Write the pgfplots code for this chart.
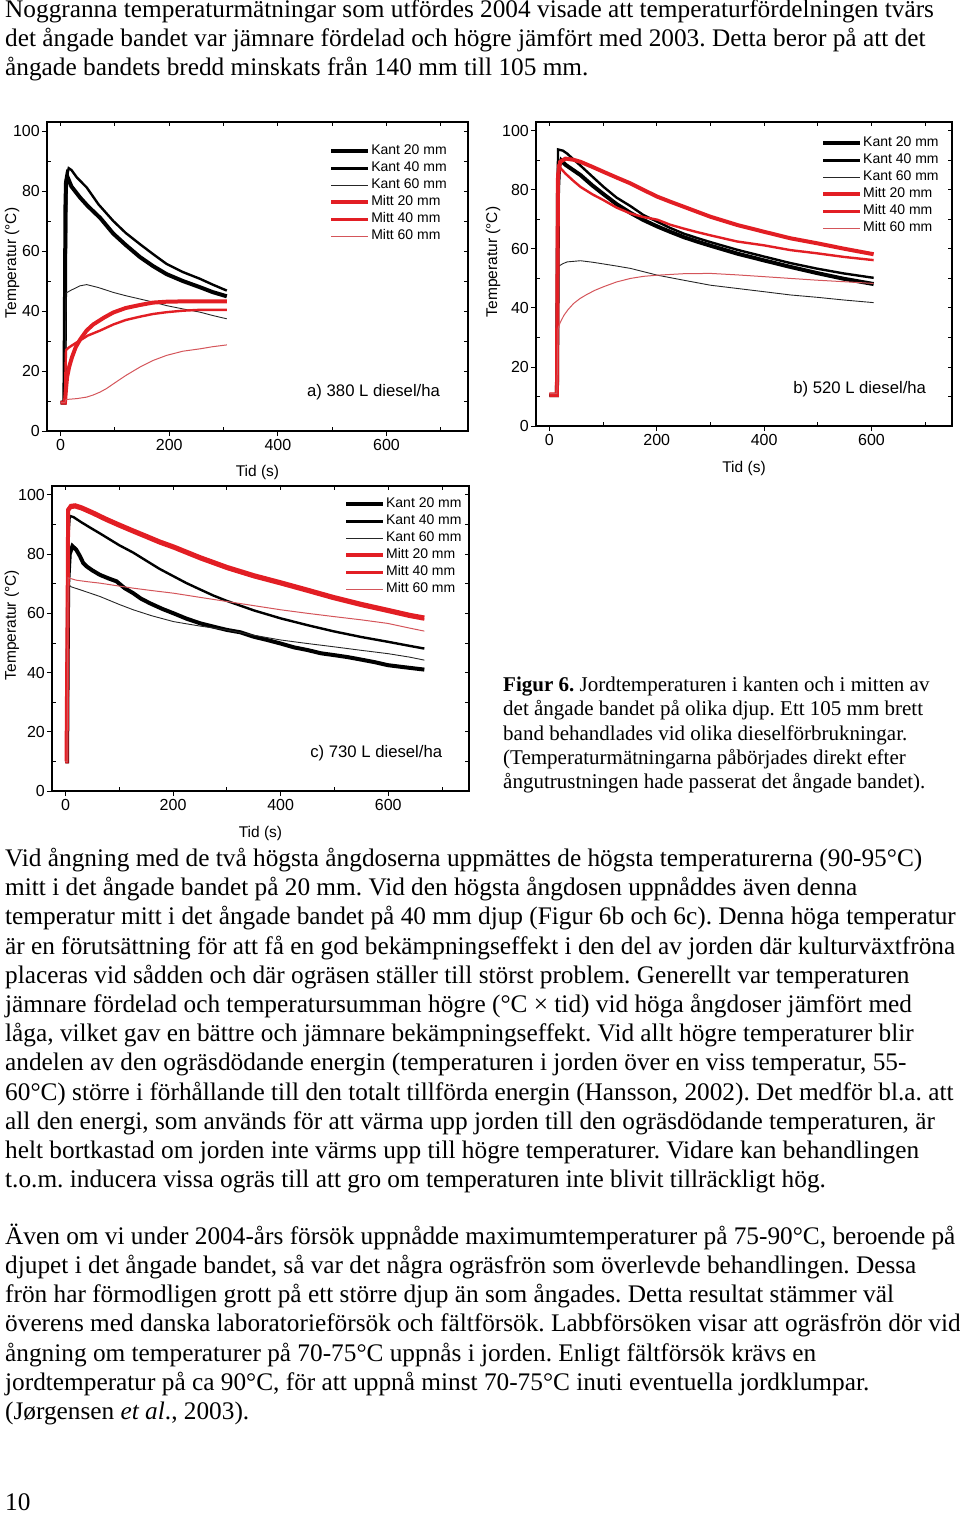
\documentclass[border=0pt]{standalone}
\usepackage{fontspec}
\setmainfont{Liberation Serif}
\newfontfamily\arial{Liberation Sans}
\usepackage{pgfplots}
\pgfplotsset{compat=1.18}
\frenchspacing
\definecolor{rd}{RGB}{226,30,36}
\definecolor{rdl}{RGB}{212,85,90}
\newcommand{\bodyf}{\fontsize{25.3}{29}\selectfont\frenchspacing}
\newcommand{\capf}{\fontsize{21}{24}\selectfont\frenchspacing}
\pgfplotsset{
  panel/.style={scale only axis, xmin=-25, xmax=750, ymin=0, ymax=103, anchor=north west,
    axis line style={line width=1.2pt}, tick style={black, line width=0.9pt},
    /pgf/number format/assume math mode=true,
    tick label style={font=\arial\fontsize{16}{16}\selectfont},
    label style={font=\arial\fontsize{15.5}{16}\selectfont}},
  mainax/.style={xtick={0,200,400,600}, ytick={0,20,...,100}, xtick pos=left, ytick pos=left,
    tick align=outside, major tick length=5pt,
    xticklabel style={inner sep=0pt, yshift=-3pt}, yticklabel style={inner sep=0pt, xshift=-2pt},
    xlabel={Tid (s)}, ylabel={Temperatur (°C)},
    legend cell align=left,
    legend image code/.code={\draw[##1] (0pt,0pt) -- (37pt,0pt);},
    legend style={draw=none, fill=none, inner sep=0pt, row sep=0pt, column sep=0pt,
      font=\arial\fontsize{14}{14}\selectfont, nodes={inner sep=1pt, text height=11pt, text depth=4pt}}},
  ovA/.style={axis line style={draw=none}, xticklabels={}, yticklabels={},
    xtick={100,300,500,700}, ytick={10,30,50,70,90}, xtick pos=both, ytick pos=both,
    tick align=inside, major tick length=4pt},
  ovB/.style={axis line style={draw=none}, xticklabels={}, yticklabels={},
    xtick={0,200,400,600}, ytick={0,20,...,100}, xtick pos=right, ytick pos=right,
    tick align=inside, major tick length=4pt},
  k20/.style={black, line width=4pt},
  k40/.style={black, line width=2.4pt},
  k60/.style={black!85, line width=0.9pt},
  m20/.style={rd, line width=4pt},
  m40/.style={rd, line width=2.4pt},
  m60/.style={rdl, line width=1pt},
}
\newcommand{\panelf}{\arial\fontsize{16.7}{17}\selectfont}
\begin{document}
\begin{tikzpicture}
\path[use as bounding box] (0pt,0pt) rectangle (960pt,-1515pt);

% ---------- top text ----------
\begin{scope}[every node/.style={anchor=base west, inner sep=0pt, font=\bodyf}]
\node at (5pt,-17.5pt) {Noggranna temperaturmätningar som utfördes 2004 visade att temperaturfördelningen tvärs};
\node at (5pt,-46.5pt) {det ångade bandet var jämnare fördelad och högre jämfört med 2003. Detta beror på att det};
\node at (5pt,-75.5pt) {ångade bandets bredd minskats från 140 mm till 105 mm.};
\end{scope}

% ---------- chart a ----------
\begin{axis}[panel, mainax, at={(47pt,-122pt)}, width=421pt, height=309pt,
  xlabel style={at={(axis description cs:0.5,-0.135)}, anchor=center},
  ylabel style={at={(axis description cs:-0.083,0.544)}, anchor=center},
  legend style={at={(axis description cs:0.670,0.933)}, anchor=north west}]
\addplot[k20] coordinates {(0,9.5) (7,9.5) (8,40) (9,75) (10,83) (12,85) (20,81.5) (36,77.8) (50,75) (73,71) (97,65.8) (120,62) (146,58) (170,55) (195,52.3) (225,50) (257,47.9) (280,46.3) (306,44.9)};
\addlegendentry{Kant 20 mm}
\addplot[k40] coordinates {(0,9.5) (8,9.5) (9,50) (11,80) (13,86) (15,87.6) (20,87) (30,84.5) (48,81.2) (70,75.5) (97,70) (120,66) (146,62.3) (170,59) (195,55.7) (225,53) (257,50.7) (280,48.8) (306,46.8)};
\addlegendentry{Kant 40 mm}
\addplot[k60] coordinates {(0,9.5) (8,9.5) (9,30) (10,46) (20,47) (36,48.4) (48,48.8) (70,47.8) (97,46.2) (120,45.1) (146,44) (170,43) (195,41.8) (225,40.7) (257,39.6) (280,38.5) (306,37.4)};
\addlegendentry{Kant 60 mm}
\addplot[m20] coordinates {(0,9.5) (8,9.5) (10,14) (12,18) (16,21.5) (21,24.6) (28,28) (36,30.5) (48,33.5) (60,35.5) (80,37.8) (97,39.5) (120,41) (146,42) (170,42.8) (195,43.1) (225,43.2) (257,43.2) (306,43.2)};
\addlegendentry{Mitt 20 mm}
\addplot[m40] coordinates {(0,9.5) (8,9.5) (9,20) (10,27) (15,27.8) (25,29) (36,30.2) (50,31.8) (73,33.5) (97,35.5) (120,37) (146,38.1) (170,39) (195,39.6) (225,40.1) (257,40.4) (306,40.4)};
\addlegendentry{Mitt 40 mm}
\addplot[m60] coordinates {(0,9.5) (8,9.5) (10,10.5) (30,10.8) (48,11.3) (60,12) (73,13) (85,14.2) (97,15.7) (120,18.5) (146,21.3) (170,23.5) (195,25.2) (225,26.6) (257,27.4) (280,28.1) (306,28.7)};
\addlegendentry{Mitt 60 mm}
\node[anchor=west, inner sep=0pt, font=\panelf] at (axis description cs:0.6176,0.126) {a) 380 L diesel/ha};
\end{axis}
\begin{axis}[panel, ovA, at={(47pt,-122pt)}, width=421pt, height=309pt]\end{axis}
\begin{axis}[panel, ovB, at={(47pt,-122pt)}, width=421pt, height=309pt]\end{axis}

% ---------- chart b ----------
\begin{axis}[panel, mainax, at={(536pt,-122pt)}, width=416pt, height=304pt,
  xlabel style={at={(axis description cs:0.5,-0.14)}, anchor=center},
  ylabel style={at={(axis description cs:-0.103,0.54)}, anchor=center},
  legend style={at={(axis description cs:0.685,0.958)}, anchor=north west}]
\addplot[k20] coordinates {(0,10.5) (14,10.5) (15,40) (16,80) (18,88) (22,90) (30,88.5) (58,85) (80,81.5) (101,78.5) (125,75.2) (151,72.2) (175,69.8) (201,67.6) (225,65.8) (250,64) (275,62.5) (300,61.1) (350,58.4) (400,56.1) (449,53.9) (499,51.8) (548,49.9) (604,48.1)};
\addlegendentry{Kant 20 mm}
\addplot[k40] coordinates {(0,10.5) (14,10.5) (15,60) (16,93.7) (25,93.3) (33,92.3) (45,90.3) (58,88.2) (80,84.5) (101,81) (125,77.4) (151,74.5) (175,71.5) (201,69.2) (225,67.1) (250,65.2) (275,63.7) (300,62.3) (350,59.7) (400,57.4) (449,55.2) (499,53.3) (548,51.7) (604,50.2)};
\addlegendentry{Kant 40 mm}
\addplot[k60] coordinates {(0,10.5) (14,10.5) (15,35) (16,54) (25,55) (33,55.6) (58,56) (80,55.5) (101,54.9) (125,54.2) (151,53.4) (175,52.3) (201,51.1) (250,49.4) (300,47.7) (350,46.6) (400,45.5) (449,44.4) (499,43.6) (548,42.7) (604,41.8)};
\addlegendentry{Kant 60 mm}
\addplot[m20] coordinates {(0,10.5) (14,10.5) (15,50) (16,85) (20,89.5) (30,90.6) (45,90.2) (58,89.5) (80,87.8) (101,86.1) (125,84.2) (151,82.2) (175,80) (201,77.7) (225,76) (250,74.3) (275,72.6) (300,70.9) (350,68.1) (400,65.8) (449,63.6) (499,61.9) (548,60.1) (604,58.2)};
\addlegendentry{Mitt 20 mm}
\addplot[m40] coordinates {(0,11) (14,11) (15,50) (16,88) (20,87.5) (30,85.5) (45,83) (58,81) (80,78.5) (101,76.5) (125,74) (151,72) (175,70.8) (201,69.9) (225,68.2) (250,66.9) (275,65.7) (300,64.6) (350,62.5) (400,61.2) (449,59.6) (499,58.5) (548,57.3) (604,56.2)};
\addlegendentry{Mitt 40 mm}
\addplot[m60] coordinates {(0,11) (14,11) (16,33) (20,35) (27,37.5) (35,39.5) (45,41.5) (57,43.2) (70,44.6) (85,46) (101,47.2) (125,48.8) (151,50) (175,50.7) (201,51.1) (250,51.6) (300,51.7) (350,51.2) (400,50.6) (449,50) (499,49.4) (548,48.9) (604,48.3)};
\addlegendentry{Mitt 60 mm}
\node[anchor=west, inner sep=0pt, font=\panelf] at (axis description cs:0.618,0.122) {b) 520 L diesel/ha};
\end{axis}
\begin{axis}[panel, ovA, at={(536pt,-122pt)}, width=416pt, height=304pt]\end{axis}
\begin{axis}[panel, ovB, at={(536pt,-122pt)}, width=416pt, height=304pt]\end{axis}

% ---------- chart c ----------
\begin{axis}[panel, mainax, at={(52pt,-486pt)}, width=417pt, height=305pt,
  xlabel style={at={(axis description cs:0.5,-0.139)}, anchor=center},
  ylabel style={at={(axis description cs:-0.096,0.544)}, anchor=center},
  legend style={at={(axis description cs:0.700,0.968)}, anchor=north west}]
\addplot[k20] coordinates {(0,10) (3,10) (5,70) (8,80) (13,82.7) (20,81.5) (27,79.3) (33,77) (39,75.9) (50,74.5) (64,73) (80,71.8) (95,70.8) (110,68.5) (126,66.8) (140,65) (157,63.4) (180,61.5) (201,60) (225,58.2) (251,56.6) (275,55.5) (300,54.4) (325,53.6) (350,52.1) (375,51) (400,49.8) (425,48.5) (450,47.6) (475,46.5) (499,45.9) (525,45.2) (549,44.4) (575,43.5) (599,42.5) (630,41.8) (667,41)};
\addlegendentry{Kant 20 mm}
\addplot[k40] coordinates {(0,10) (3,10) (5,85) (8,92.9) (15,92.5) (30,90.7) (50,88.5) (64,87) (100,83) (126,80.5) (150,77.8) (175,75) (201,72.5) (225,70.2) (251,68) (275,66) (300,64.2) (350,61) (400,58.3) (450,56) (499,53.9) (550,52) (599,50.4) (640,49) (667,48.1)};
\addlegendentry{Kant 40 mm}
\addplot[k60] coordinates {(0,10) (3,10) (5,70) (10,69) (30,67.8) (64,65.7) (100,63) (126,61.2) (160,59.2) (201,57.2) (250,55.7) (300,54.4) (350,52.6) (400,51) (450,49.8) (499,48.7) (550,47.5) (599,46.4) (640,45.2) (667,44.2)};
\addlegendentry{Kant 60 mm}
\addplot[m20] coordinates {(0,10) (2,10) (4,60) (5,95) (10,96.3) (18,96.5) (30,95.8) (50,94.2) (75,92) (100,90) (126,88) (150,86.2) (175,84.3) (201,82.6) (250,79) (300,75.7) (350,72.9) (400,70.5) (450,68) (499,65.5) (550,63.2) (599,61.2) (640,59.5) (667,58.6)};
\addlegendentry{Mitt 20 mm}
\addplot[m40] coordinates {(0,10) (2,10) (4,60) (5,94.3) (10,95.6) (18,95.8) (30,95.1) (50,93.5) (75,91.3) (100,89.3) (126,87.3) (150,85.5) (175,83.6) (201,81.9) (250,78.3) (300,75) (350,72.2) (400,69.8) (450,67.3) (499,64.8) (550,62.5) (599,60.5) (640,58.8) (667,57.9)};
\addlegendentry{Mitt 40 mm}
\addplot[m60] coordinates {(0,10) (3,10) (5,72) (20,71.2) (40,70.7) (64,70.2) (100,69.2) (126,68.5) (160,67.7) (201,66.8) (250,65.4) (300,64) (350,62.6) (400,61.2) (450,60) (499,58.9) (550,57.8) (599,56.6) (640,55) (667,54)};
\addlegendentry{Mitt 60 mm}
\node[anchor=west, inner sep=0pt, font=\panelf] at (axis description cs:0.619,0.125) {c) 730 L diesel/ha};
\end{axis}
\begin{axis}[panel, ovA, at={(52pt,-486pt)}, width=417pt, height=305pt]\end{axis}
\begin{axis}[panel, ovB, at={(52pt,-486pt)}, width=417pt, height=305pt]\end{axis}

% ---------- caption ----------
\begin{scope}[every node/.style={anchor=base west, inner sep=0pt, font=\capf}]
\node at (503pt,-691.5pt) {\textbf{Figur 6.} Jordtemperaturen i kanten och i mitten av};
\node at (503pt,-715.8pt) {det ångade bandet på olika djup. Ett 105 mm brett};
\node at (503pt,-740.1pt) {band behandlades vid olika dieselförbrukningar.};
\node at (503pt,-764.4pt) {(Temperaturmätningarna påbörjades direkt efter};
\node at (503pt,-788.7pt) {ångutrustningen hade passerat det ångade bandet).};
\end{scope}

% ---------- body text ----------
\begin{scope}[every node/.style={anchor=base west, inner sep=0pt, font=\bodyf}]
\node at (5pt,-866.5pt) {Vid ångning med de två högsta ångdoserna uppmättes de högsta temperaturerna (90-95°C)};
\node at (5pt,-895.7pt) {mitt i det ångade bandet på 20 mm. Vid den högsta ångdosen uppnåddes även denna};
\node at (5pt,-924.9pt) {temperatur mitt i det ångade bandet på 40 mm djup (Figur 6b och 6c). Denna höga temperatur};
\node at (5pt,-954.1pt) {är en förutsättning för att få en god bekämpningseffekt i den del av jorden där kulturväxtfröna};
\node at (5pt,-983.3pt) {placeras vid sådden och där ogräsen ställer till störst problem. Generellt var temperaturen};
\node at (5pt,-1012.5pt) {jämnare fördelad och temperatursumman högre (°C × tid) vid höga ångdoser jämfört med};
\node at (5pt,-1041.7pt) {låga, vilket gav en bättre och jämnare bekämpningseffekt. Vid allt högre temperaturer blir};
\node at (5pt,-1070.9pt) {andelen av den ogräsdödande energin (temperaturen i jorden över en viss temperatur, 55-};
\node at (5pt,-1100.1pt) {60°C) större i förhållande till den totalt tillförda energin (Hansson, 2002). Det medför bl.a. att};
\node at (5pt,-1129.3pt) {all den energi, som används för att värma upp jorden till den ogräsdödande temperaturen, är};
\node at (5pt,-1158.5pt) {helt bortkastad om jorden inte värms upp till högre temperaturer. Vidare kan behandlingen};
\node at (5pt,-1187.7pt) {t.o.m. inducera vissa ogräs till att gro om temperaturen inte blivit tillräckligt hög.};
\node at (5pt,-1244.3pt) {Även om vi under 2004-års försök uppnådde maximumtemperaturer på 75-90°C, beroende på};
\node at (5pt,-1273.5pt) {djupet i det ångade bandet, så var det några ogräsfrön som överlevde behandlingen. Dessa};
\node at (5pt,-1302.7pt) {frön har förmodligen grott på ett större djup än som ångades. Detta resultat stämmer väl};
\node at (5pt,-1331.9pt) {överens med danska laboratorieförsök och fältförsök. Labbförsöken visar att ogräsfrön dör vid};
\node at (5pt,-1361.1pt) {ångning om temperaturer på 70-75°C uppnås i jorden. Enligt fältförsök krävs en};
\node at (5pt,-1390.3pt) {jordtemperatur på ca 90°C, för att uppnå minst 70-75°C inuti eventuella jordklumpar.};
\node at (5pt,-1419.5pt) {(Jørgensen \textit{et al}., 2003).};
\node at (5pt,-1510pt) {10};
\end{scope}
\end{tikzpicture}
\end{document}
